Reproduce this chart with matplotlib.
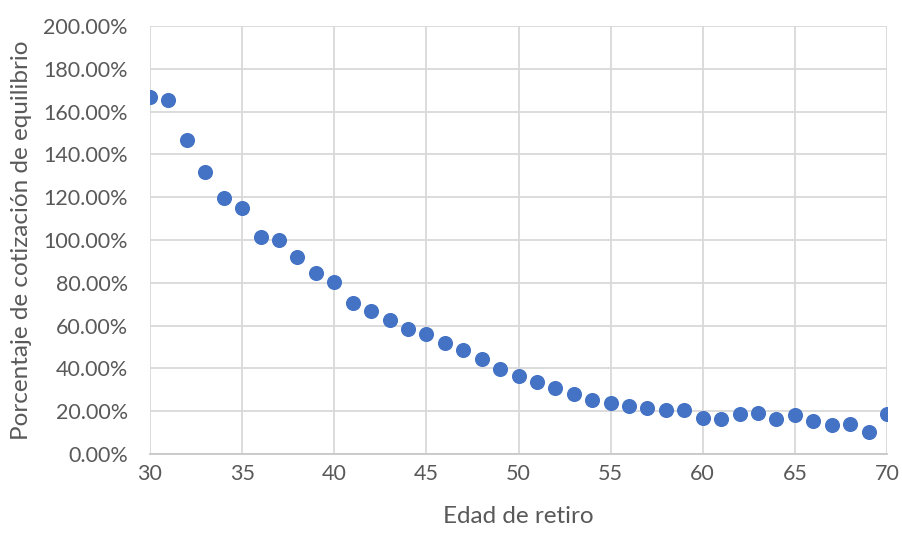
import matplotlib.pyplot as plt
from matplotlib.ticker import FuncFormatter

edad = list(range(30, 71))
porcentaje = [166.7, 165.3, 146.9, 131.8, 119.6, 114.8, 101.4, 99.9, 92.1, 84.7,
              80.4, 70.7, 66.7, 62.8, 58.3, 56.2, 51.7, 48.5, 44.4, 39.7,
              36.6, 33.8, 30.7, 28.0, 25.4, 23.7, 22.4, 21.6, 20.6, 20.6,
              17.0, 16.5, 18.7, 19.0, 16.2, 18.2, 15.6, 13.6, 14.0, 10.1,
              18.7]

plt.rcParams['font.family'] = ['Lato', 'DejaVu Sans']

fig = plt.figure(figsize=(9.02, 5.33), dpi=100)
ax = fig.add_axes([150 / 902, 1 - 454 / 533, 737 / 902, 428 / 533])

ax.scatter(edad, porcentaje, s=118, color='#4472C4', zorder=3, linewidths=0)

ax.set_xlim(30, 70)
ax.set_ylim(0, 200)
ax.set_xticks(range(30, 71, 5))
ax.set_yticks(range(0, 201, 20))
ax.yaxis.set_major_formatter(FuncFormatter(lambda v, p: f"{v:.2f}%"))

ax.grid(True, color='#D9D9D9', linewidth=1.3)
ax.set_axisbelow(True)
for s in ['top', 'right', 'left']:
    ax.spines[s].set_visible(False)
ax.spines['bottom'].set_color('#C8C8C8')
ax.spines['bottom'].set_linewidth(1.3)
ax.tick_params(length=0, labelsize=15.5, colors='#595959', pad=7)
ax.tick_params(axis='y', pad=16)

ax.set_xlabel('Edad de retiro', fontsize=17.5, color='#595959', labelpad=16)
ax.set_ylabel('Porcentaje de cotización de equilibrio', fontsize=17.5,
              color='#595959', labelpad=8)

fig.savefig('out.png', dpi=100)
